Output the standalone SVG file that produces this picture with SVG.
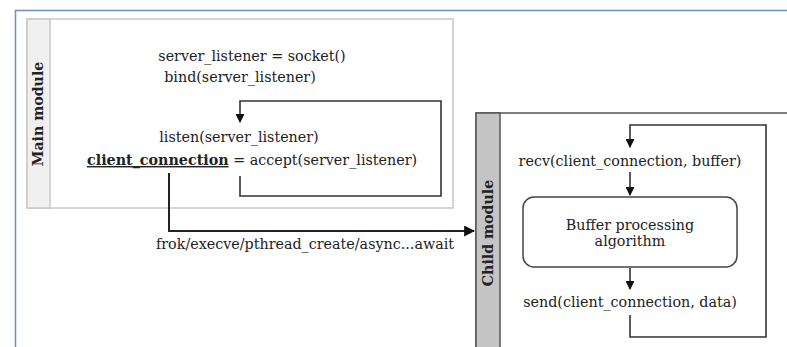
<svg xmlns="http://www.w3.org/2000/svg" width="787" height="347" viewBox="0 0 787 347">
  <style>
    .t { font-family: "DejaVu Serif", "Liberation Serif", serif; font-size: 14.3px; fill: #222; }
    .lbl { font-family: "DejaVu Serif", "Liberation Serif", serif; font-size: 14.2px; font-weight: bold; fill: #222; }
    .edge { fill: none; stroke: #222; stroke-width: 2; }
    .loop { fill: none; stroke: #333; stroke-width: 1.6; }
  </style>
  <defs>
    <marker id="arrow" viewBox="0 0 10 10" refX="9" refY="5" markerWidth="5.5" markerHeight="5.5" orient="auto">
      <path d="M0,0 L10,5 L0,10 z" fill="#111"/>
    </marker>
  </defs>
  <rect width="787" height="347" fill="#fff"/>
  <!-- page frame -->
  <path d="M15.5,347 V10.5 H787" fill="none" stroke="#6d8fc7" stroke-width="1.5"/>

  <!-- Main module -->
  <g id="main-module">
    <rect x="27" y="19" width="426" height="189" fill="#fff" stroke="#c8c8c8" stroke-width="1.5"/>
    <rect x="27" y="19" width="23" height="189" fill="#f0f0f0" stroke="#c8c8c8" stroke-width="1.5"/>
    <text class="lbl" transform="translate(43,114) rotate(-90)" text-anchor="middle">Main module</text>
    <text class="t" x="252" y="61" text-anchor="middle">server_listener = socket()</text>
    <text class="t" x="240" y="82" text-anchor="middle">bind(server_listener)</text>
    <text class="t" x="239" y="142" text-anchor="middle">listen(server_listener)</text>
    <text class="t" x="87" y="165"><tspan font-weight="bold" text-decoration="underline">client_connection</tspan> = accept(server_listener)</text>
  </g>

  <!-- Child module -->
  <g id="child-module">
    <rect x="476" y="113" width="320" height="250" fill="#fff" stroke="#555" stroke-width="1.5"/>
    <rect x="476" y="113" width="24" height="250" fill="#c4c4c4" stroke="#555" stroke-width="1.5"/>
    <text class="lbl" transform="translate(493,233) rotate(-90)" text-anchor="middle">Child module</text>
    <text class="t" x="630" y="166" text-anchor="middle">recv(client_connection, buffer)</text>
    <text class="t" x="630" y="307" text-anchor="middle">send(client_connection, data)</text>
  </g>

  <g id="buffer-processing">
    <rect x="523" y="197" width="214" height="70" rx="11" fill="#fff" stroke="#444" stroke-width="1.5"/>
    <text class="t" x="630" y="230" text-anchor="middle">Buffer processing</text>
    <text class="t" x="630" y="246" text-anchor="middle">algorithm</text>
  </g>

  <!-- connectors -->
  <g id="connectors">
    <path class="loop" d="M240,176 V196 H441 V101 H240 V122" marker-end="url(#arrow)"/>
    <path class="edge" d="M169,173 V231 H474" marker-end="url(#arrow)"/>
    <text class="t" x="305" y="249" text-anchor="middle">frok/execve/pthread_create/async...await</text>
    <path class="loop" d="M630,315 V337 H766 V125 H630 V147" marker-end="url(#arrow)"/>
    <path class="loop" d="M630,172 V195" marker-end="url(#arrow)"/>
    <path class="loop" d="M630,268 V289" marker-end="url(#arrow)"/>
  </g>
</svg>
